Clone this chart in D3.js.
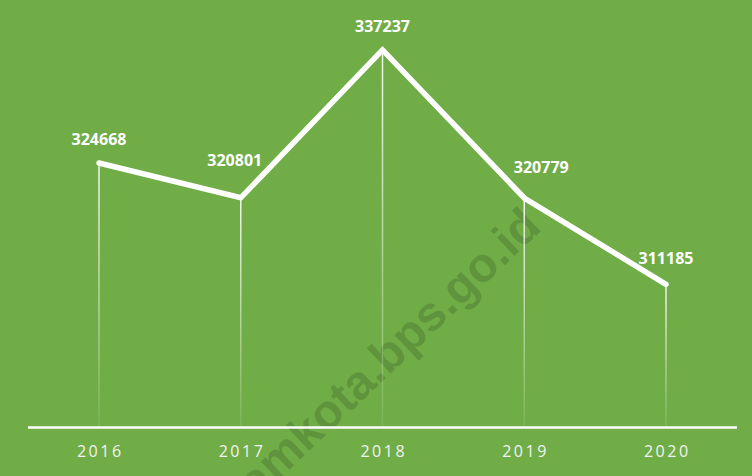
<!DOCTYPE html>
<html>
<head>
<meta charset="utf-8">
<script src="https://cdn.jsdelivr.net/npm/d3@7"></script>
<style>
  html, body { margin: 0; padding: 0; background: #70ad47; }
  svg { display: block; }
</style>
</head>
<body>
<div id="chart"></div>
<script>
// data
const years = ["2016", "2017", "2018", "2019", "2020"];
const values = [324668, 320801, 337237, 320779, 311185];
// label nudges (dx, dy) relative to the point
const labelDx = [0, -6, 0, 17, 0];
const labelDy = [-24, -38, -24, -31, -26];

const width = 752, height = 476;
const baseY = 427.5;

const svg = d3.select("#chart").append("svg")
    .attr("width", width)
    .attr("height", height);

svg.append("rect")
    .attr("width", width)
    .attr("height", height)
    .attr("fill", "#70ad47");

// watermark (sits under the chart marks)
svg.append("text")
    .attr("transform", "translate(543,229) rotate(-43.5)")
    .attr("text-anchor", "end")
    .attr("font-family", "'Liberation Sans', Arial, sans-serif")
    .attr("font-weight", "bold")
    .attr("font-size", 48)
    .attr("fill", "#000")
    .attr("fill-opacity", 0.15)
    .text("batamkota.bps.go.id");

const x = d3.scalePoint()
    .domain(years)
    .range([99, 666]);

const y = d3.scaleLinear()
    .domain([295000, 340000])
    .range([430, 25]);

const defs = svg.append("defs");
const grad = defs.append("linearGradient")
    .attr("id", "drop")
    .attr("x1", 0).attr("y1", 0)
    .attr("x2", 0).attr("y2", 1);
grad.append("stop").attr("offset", "0%").attr("stop-color", "#fff").attr("stop-opacity", 0.9);
grad.append("stop").attr("offset", "100%").attr("stop-color", "#fff").attr("stop-opacity", 0.08);

const data = years.map((yr, i) => ({ year: yr, value: values[i], i: i }));

// drop lines
svg.append("g")
    .selectAll("rect")
    .data(data)
    .join("rect")
    .attr("x", d => x(d.year) - 0.75)
    .attr("y", d => y(d.value))
    .attr("width", 1.5)
    .attr("height", d => baseY - y(d.value))
    .attr("fill", "url(#drop)");

// baseline
svg.append("line")
    .attr("x1", 28).attr("x2", 737)
    .attr("y1", baseY).attr("y2", baseY)
    .attr("stroke", "#fff")
    .attr("stroke-width", 2.5);

// year labels
svg.append("g")
    .selectAll("text")
    .data(years)
    .join("text")
    .attr("x", d => x(d) + 1.25)
    .attr("y", 457)
    .attr("text-anchor", "middle")
    .attr("font-family", "'Open Sans', sans-serif")
    .attr("font-size", 16)
    .attr("letter-spacing", "2.5px")
    .attr("fill", "#f2f2f2")
    .text(d => d);

// main line
const line = d3.line()
    .x(d => x(d.year))
    .y(d => y(d.value));

svg.append("path")
    .datum(data)
    .attr("d", line)
    .attr("fill", "none")
    .attr("stroke", "#fff")
    .attr("stroke-width", 5.5)
    .attr("stroke-linecap", "round")
    .attr("stroke-linejoin", "miter");

// value labels
svg.append("g")
    .selectAll("text")
    .data(data)
    .join("text")
    .attr("x", d => x(d.year) + labelDx[d.i])
    .attr("y", d => y(d.value) + labelDy[d.i] + 6)
    .attr("text-anchor", "middle")
    .attr("font-family", "'Open Sans', sans-serif")
    .attr("font-weight", "bold")
    .attr("font-size", 16)
    .attr("fill", "#fff")
    .text(d => d.value);
</script>
</body>
</html>
